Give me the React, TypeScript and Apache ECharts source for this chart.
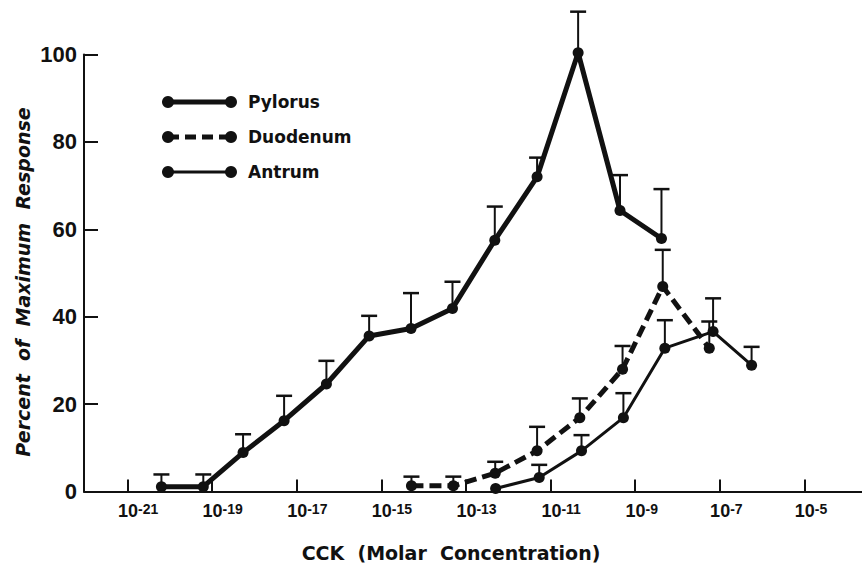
import React, { useEffect, useRef } from "react";
import * as echarts from "echarts";

// x values are log10 of molar concentration
const xTickExponents = [-21, -19, -17, -15, -13, -11, -9, -7, -5];
const yTickValues = [0, 20, 40, 60, 80, 100];

const pylorusLogConc = [-20.2, -19.21, -18.27, -17.3, -16.3, -15.29, -14.3, -13.32, -12.32, -11.32, -10.35, -9.36, -8.38];
const pylorusResponse = [1.1, 1.1, 8.9, 16.2, 24.6, 35.6, 37.3, 41.9, 57.5, 72.0, 100.4, 64.3, 57.9];
const pylorusUpper = [3.9, 3.9, 13.1, 21.9, 29.9, 40.2, 45.4, 48.0, 65.2, 76.4, 109.8, 72.4, 69.2];

const duodenumLogConc = [-14.29, -13.3, -12.31, -11.32, -10.31, -9.3, -8.35, -7.25];
const duodenumResponse = [1.3, 1.3, 4.2, 9.3, 16.9, 28.0, 46.9, 32.8];
const duodenumUpper = [3.4, 3.4, 6.8, 14.8, 21.3, 33.3, 55.3, 38.9];

const antrumLogConc = [-12.3, -11.27, -10.27, -9.28, -8.3, -7.16, -6.25];
const antrumResponse = [0.7, 3.2, 9.3, 16.9, 32.8, 36.6, 28.9];
const antrumUpper = [null, 6.1, 12.9, 22.5, 39.2, 44.2, 33.1];

const seriesNames = ["Pylorus", "Duodenum", "Antrum"];
const xTitle = "CCK  (Molar  Concentration)";
const yTitle = "Percent  of  Maximum  Response";

const INK = "#111111";
const FONT = "Liberation Sans";

function points(xs: number[], ys: number[]) {
  return xs.map((x, i) => [x, ys[i]]);
}
function errPoints(xs: number[], ys: number[], ups: (number | null)[]) {
  const out: number[][] = [];
  xs.forEach((x, i) => {
    if (ups[i] != null) out.push([x, ys[i], ups[i] as number]);
  });
  return out;
}

const errorRender = (params: any, api: any) => {
  const p = api.coord([api.value(0), api.value(1)]);
  const q = api.coord([api.value(0), api.value(2)]);
  return {
    type: "group",
    children: [
      { type: "line", shape: { x1: p[0], y1: p[1], x2: q[0], y2: q[1] }, style: { stroke: INK, lineWidth: 2 } },
      { type: "line", shape: { x1: q[0] - 8, y1: q[1], x2: q[0] + 8, y2: q[1] }, style: { stroke: INK, lineWidth: 2.5 } },
    ],
  };
};

function legendRow(y: number, name: string, width: number, dash: number[] | null) {
  return [
    { type: "line", shape: { x1: 168, y1: y, x2: 231, y2: y }, style: { stroke: INK, lineWidth: width, lineDash: dash || undefined } },
    { type: "circle", shape: { cx: 168, cy: y, r: 6 }, style: { fill: INK } },
    { type: "circle", shape: { cx: 231, cy: y, r: 6 }, style: { fill: INK } },
    {
      type: "text",
      x: 248,
      y: y,
      style: { text: name, fill: INK, font: "bold 17px 'DejaVu Sans'", textVerticalAlign: "middle", textAlign: "left" },
    },
  ];
}

export default function App() {
  const ref = useRef<HTMLDivElement>(null);
  useEffect(() => {
    if (!ref.current) return;
    const chart = echarts.init(ref.current, null, { renderer: "svg" });
    const option: any = {
      animation: false,
      backgroundColor: "#ffffff",
      grid: { left: 84, right: 0, top: 54.5, bottom: 73.5, containLabel: false },
      xAxis: {
        type: "value",
        min: -22.03,
        max: -3.64,
        axisLine: { show: true, lineStyle: { color: INK, width: 2 } },
        axisTick: { show: true, inside: true, length: 12, customValues: xTickExponents, lineStyle: { color: INK, width: 2 } },
        splitLine: { show: false },
        axisLabel: {
          customValues: xTickExponents,
          margin: 10,
          color: INK,
          formatter: (v: number) => {
            const e = String(Math.round(v));
            return e.length > 2 ? `{bb|10}{s|${e}}` : `{ba|10}{s|${e}}`;
          },
          rich: {
            bb: { fontSize: 18, fontWeight: "bold", fontFamily: FONT, color: INK, padding: [0, 0, 0, 21] },
            ba: { fontSize: 18, fontWeight: "bold", fontFamily: FONT, color: INK, padding: [0, 0, 0, 13] },
            s: { fontSize: 14, fontWeight: "bold", fontFamily: FONT, color: INK, verticalAlign: "top" },
          },
        },
      },
      yAxis: {
        type: "value",
        min: 0,
        max: 100,
        interval: 20,
        axisLine: { show: true, lineStyle: { color: INK, width: 2 } },
        axisTick: { show: true, inside: true, length: 14, lineStyle: { color: INK, width: 2 } },
        splitLine: { show: false },
        axisLabel: { fontSize: 22, fontWeight: "bold", fontFamily: FONT, color: INK, margin: 7, customValues: yTickValues },
      },
      graphic: [
        ...legendRow(102, seriesNames[0], 5, null),
        ...legendRow(137, seriesNames[1], 5, [11, 6]),
        ...legendRow(172, seriesNames[2], 3, null),
        {
          type: "text",
          x: 451,
          y: 553,
          style: {
            text: xTitle,
            fill: INK,
            font: "bold 19px 'DejaVu Sans'",
            textAlign: "center",
            textVerticalAlign: "middle",
          },
        },
        {
          type: "text",
          x: 23,
          y: 282,
          rotation: Math.PI / 2,
          style: {
            text: yTitle,
            fill: INK,
            font: "italic bold 19px 'DejaVu Sans'",
            textAlign: "center",
            textVerticalAlign: "middle",
          },
        },
      ],
      series: [
        {
          name: seriesNames[0] + " SEM",
          type: "custom",
          renderItem: errorRender,
          data: errPoints(pylorusLogConc, pylorusResponse, pylorusUpper),
          encode: { x: 0, y: 1 },
          clip: false,
          z: 1,
        },
        {
          name: seriesNames[1] + " SEM",
          type: "custom",
          renderItem: errorRender,
          data: errPoints(duodenumLogConc, duodenumResponse, duodenumUpper),
          encode: { x: 0, y: 1 },
          clip: false,
          z: 1,
        },
        {
          name: seriesNames[2] + " SEM",
          type: "custom",
          renderItem: errorRender,
          data: errPoints(antrumLogConc, antrumResponse, antrumUpper),
          encode: { x: 0, y: 1 },
          clip: false,
          z: 1,
        },
        {
          name: seriesNames[0],
          type: "line",
          data: points(pylorusLogConc, pylorusResponse),
          symbol: "circle",
          symbolSize: 11,
          itemStyle: { color: INK },
          lineStyle: { color: INK, width: 5 },
          clip: false,
          z: 3,
        },
        {
          name: seriesNames[1],
          type: "line",
          data: points(duodenumLogConc, duodenumResponse),
          symbol: "circle",
          symbolSize: 11,
          itemStyle: { color: INK },
          lineStyle: { color: INK, width: 5, type: [12, 6] },
          clip: false,
          z: 3,
        },
        {
          name: seriesNames[2],
          type: "line",
          data: points(antrumLogConc, antrumResponse),
          symbol: "circle",
          symbolSize: 11,
          itemStyle: { color: INK },
          lineStyle: { color: INK, width: 3 },
          clip: false,
          z: 3,
        },
      ],
    };
    chart.setOption(option);
    return () => chart.dispose();
  }, []);
  return (
    <div
      ref={ref}
      style={{ position: "fixed", left: 0, top: 0, width: 862, height: 565, background: "#ffffff" }}
    />
  );
}
